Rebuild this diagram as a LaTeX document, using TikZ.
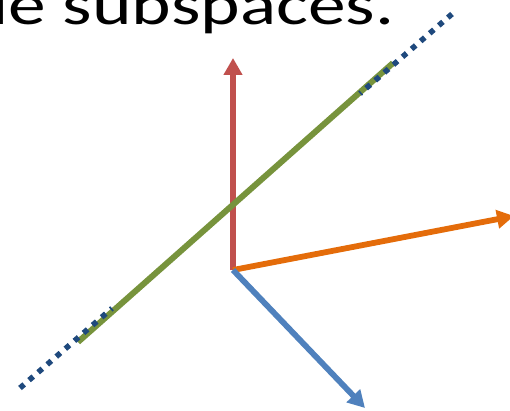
\documentclass[tikz,border=0pt]{standalone}
\usepackage{fontspec}
\setmainfont{Carlito}
\usetikzlibrary{arrows.meta}
\definecolor{AxisRed}{HTML}{C0504D}
\definecolor{AxisOrange}{HTML}{E46C0A}
\definecolor{AxisBlue}{HTML}{4F81BD}
\definecolor{SubGreen}{HTML}{77933C}
\definecolor{LineNavy}{HTML}{1F497D}
\begin{document}
\begin{tikzpicture}[x=1pt,y=-1pt,>={Triangle[width=18pt,length=17pt]},
  axis/.style={line width=5.8pt,->},
  dots/.style={LineNavy,line width=5.5pt,dash pattern=on 5.5pt off 6.5pt},
  every node/.style={inner sep=0pt,outer sep=0pt}]
  \useasboundingbox (0,0) rectangle (510,411);
  \clip (0,0) rectangle (510,411);
  % Title, cut off at the top.
  \node[anchor=base west] (title) at (-9,24.5)
    {\scalebox{1.3}[1]{\fontsize{58}{60}\selectfont le subspaces.}};

  % Basis vectors from the origin.
  \coordinate (O) at (233,270);
  \coordinate (up) at (233,58);
  \coordinate (right) at (514,216);
  \coordinate (down) at (365,408);
  \draw[axis,AxisRed] (O) -- (up);
  \draw[axis,AxisOrange] (O) -- (right);
  \draw[axis,AxisBlue] (O) -- (down);

  % Subspace through the origin.
  \coordinate (g1) at (78,342);
  \coordinate (g2) at (393,63);
  \coordinate (d1) at (20,388);
  \coordinate (d1e) at (112,308.3);
  \coordinate (d2s) at (360,93.6);
  \coordinate (d2) at (452,14);
  \draw[SubGreen,line width=6pt] (g1) -- (g2);
  \draw[dots] (d1) -- (d1e);
  \draw[dots] (d2) -- (d2s);
\end{tikzpicture}
\end{document}
